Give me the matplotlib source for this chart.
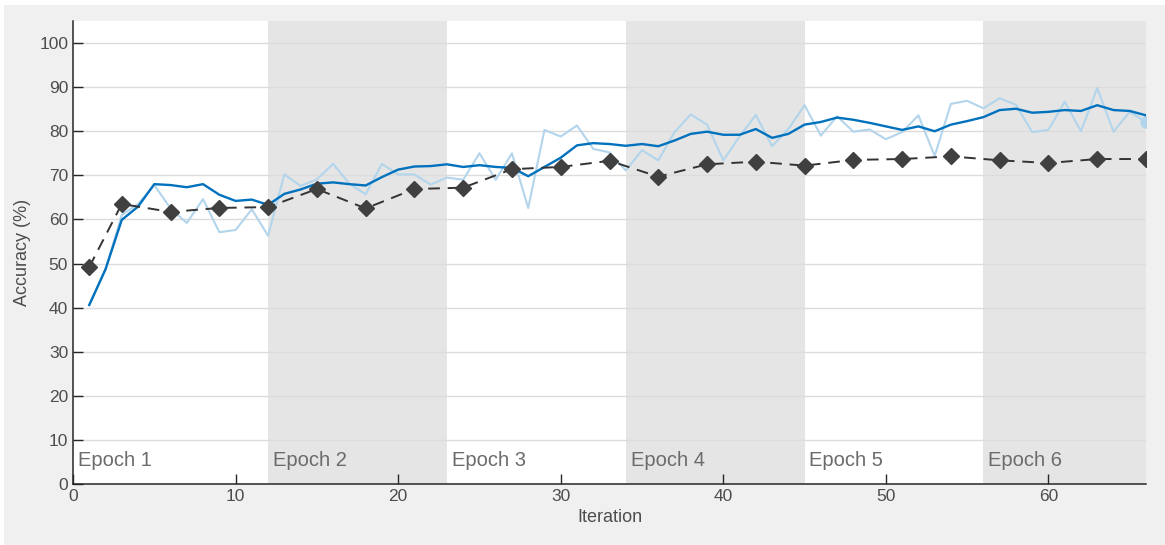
import numpy as np
import matplotlib
matplotlib.use("Agg")
import matplotlib.pyplot as plt
from matplotlib.patches import Rectangle

# training accuracy per iteration (raw and smoothed)
iterations = list(range(1, 67))
train_raw = [40.6, 48.7, 61.0, 63.5, 67.8, 62.5, 59.2, 64.6, 57.1, 57.6,
             62.3, 56.3, 70.2, 67.6, 69.1, 72.6, 68.1, 65.7, 72.6, 70.2,
             70.2, 67.9, 69.5, 69.0, 75.0, 69.0, 75.0, 62.6, 80.3, 78.8,
             81.3, 76.0, 75.2, 71.1, 75.7, 73.4, 79.8, 83.8, 81.5, 73.4,
             78.8, 83.7, 76.6, 80.5, 85.9, 79.0, 83.4, 79.9, 80.4, 78.2,
             79.8, 83.6, 74.4, 86.2, 86.9, 85.2, 87.5, 86.0, 79.8, 80.3,
             86.7, 80.0, 89.8, 79.9, 84.4, 82.1]
train_smooth = [40.6, 48.7, 59.9, 62.9, 68.0, 67.8, 67.3, 68.0, 65.6, 64.2,
                64.5, 63.3, 65.8, 66.8, 68.1, 68.4, 68.0, 67.7, 69.6, 71.3,
                72.0, 72.1, 72.5, 71.9, 72.3, 71.9, 71.7, 69.8, 71.9, 74.0,
                76.8, 77.3, 77.1, 76.7, 77.1, 76.6, 77.9, 79.4, 79.9, 79.2,
                79.2, 80.5, 78.5, 79.4, 81.5, 82.1, 83.1, 82.6, 81.9, 81.1,
                80.3, 81.1, 80.0, 81.5, 82.3, 83.2, 84.8, 85.1, 84.2, 84.4,
                84.8, 84.6, 85.9, 84.8, 84.6, 83.6]

# validation accuracy
val_iter = [1, 3, 6, 9, 12, 15, 18, 21, 24, 27, 30, 33,
            36, 39, 42, 45, 48, 51, 54, 57, 60, 63, 66]
val_acc = [49.2, 63.5, 61.7, 62.6, 62.8, 66.9, 62.5, 66.9, 67.2, 71.4, 71.9, 73.3,
           69.7, 72.5, 73.1, 72.2, 73.5, 73.7, 74.3, 73.4, 72.8, 73.7, 73.7]

epoch_starts = [0, 12, 23, 34, 45, 56]
epoch_labels = ["Epoch 1", "Epoch 2", "Epoch 3", "Epoch 4", "Epoch 5", "Epoch 6"]

plt.rcParams['font.family'] = ['Liberation Sans', 'DejaVu Sans']

fig = plt.figure(figsize=(11.65, 5.45), dpi=100)
fig.patch.set_facecolor('white')
fig.patches.append(Rectangle((4 / 1165, 0), 1, 1 - 5 / 545, transform=fig.transFigure,
                             facecolor='#f0f0f0', edgecolor='none', zorder=-10))
ax = fig.add_axes([73 / 1165, 1 - 484 / 545, (1146 - 73) / 1165, (484 - 21) / 545])
ax.set_facecolor('white')

# shaded bands for even epochs
for k, start in enumerate(epoch_starts):
    end = epoch_starts[k + 1] if k + 1 < len(epoch_starts) else 66
    if k % 2 == 1:
        ax.axvspan(start, end, color='#e5e5e5', zorder=0, lw=0)
    ax.text(start + 0.3, 5.4, epoch_labels[k], fontsize=14.5, color='#6b6b6b',
            va='center', ha='left', zorder=1)

ax.plot(iterations, train_raw, color='#b3d5ec', lw=1.5, zorder=2)
ax.plot(iterations[-1], train_raw[-1], 'o', color='#b3d5ec', ms=8, zorder=2)
ax.plot(iterations, train_smooth, color='#0072bd', lw=1.7, zorder=3)
ax.plot(val_iter, val_acc, '--', color='#333333', lw=1.4, dashes=(6, 4),
        marker='D', ms=8.5, mfc='#404040', mec='#404040', zorder=4)

ax.set_xlim(0, 66)
ax.set_ylim(0, 105)
ax.set_xticks(range(0, 61, 10))
ax.set_yticks(range(0, 101, 10))
ax.yaxis.grid(True, color='#dcdcdc', lw=1)
ax.set_axisbelow(True)
for s in ['top', 'right']:
    ax.spines[s].set_visible(False)
for s in ['left', 'bottom']:
    ax.spines[s].set_color('#262626')
    ax.spines[s].set_linewidth(1.1)
ax.tick_params(direction='in', length=7, width=1, colors='#262626',
               labelsize=12.5, labelcolor='#4d4d4d')
ax.set_xlabel("Iteration", fontsize=13, color='#4d4d4d', labelpad=4)
ax.set_ylabel("Accuracy (%)", fontsize=13, color='#4d4d4d', labelpad=6)

fig.savefig("out.png", dpi=100, facecolor=fig.get_facecolor())
